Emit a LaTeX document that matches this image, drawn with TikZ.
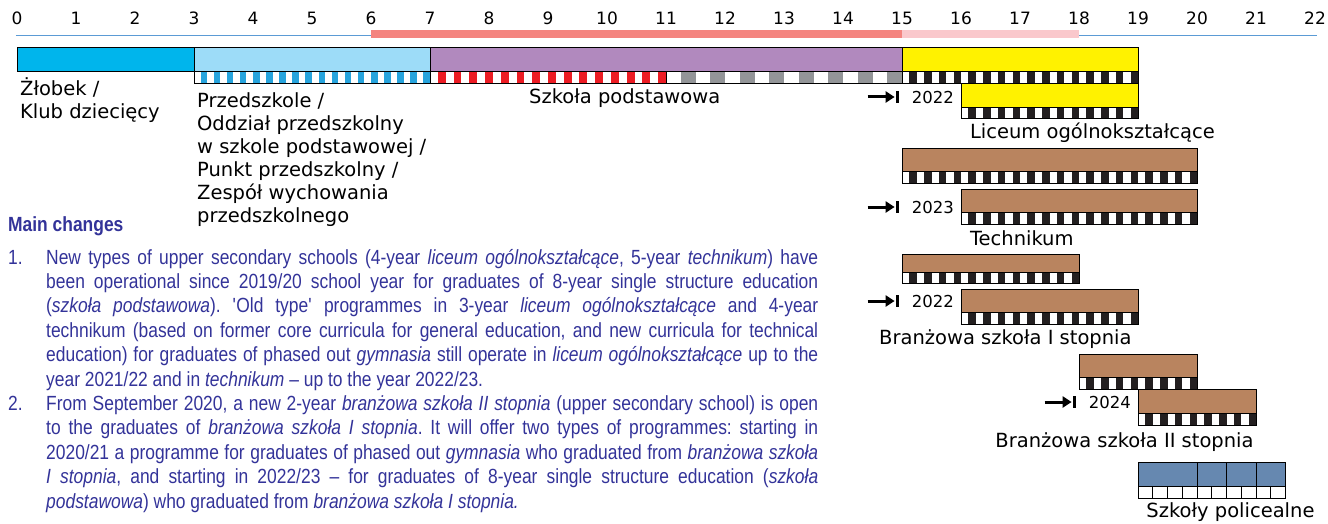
\documentclass[tikz,border=0pt]{standalone}
\usepackage{fontspec}
\setmainfont{DejaVu Sans}
\newfontfamily\notefont[FakeStretch=0.85]{Liberation Sans}
\usepackage{xcolor}
\usepackage{tikz}
\usetikzlibrary{arrows.meta}
\definecolor{crecheblue}{HTML}{00B5EC}
\definecolor{preblue}{HTML}{9DDCF8}
\definecolor{prestripe}{HTML}{27A4DD}
\definecolor{primpurple}{HTML}{B189BE}
\definecolor{stripered}{HTML}{EC1C24}
\definecolor{stripegrey}{HTML}{939598}
\definecolor{stripeblack}{HTML}{231F20}
\definecolor{upyellow}{HTML}{FFF200}
\definecolor{vocbrown}{HTML}{B9845F}
\definecolor{postblue}{HTML}{6688B0}
\definecolor{compred}{HTML}{F4847F}
\definecolor{comppink}{HTML}{FAC8CC}
\definecolor{axisblue}{HTML}{5B9BD5}
\definecolor{notetext}{HTML}{333399}
\newcommand\fullline[1]{\makebox[772pt][s]{#1}}
\frenchspacing

\begin{document}
\begin{tikzpicture}[x=59pt,y=-1pt,
  edge/.style={draw=black,line width=0.8pt},
  lbl/.style={font=\fontsize{19.5}{23}\selectfont,inner sep=0pt,align=left,anchor=base west},
  yearlbl/.style={font=\fontsize{16.5}{18}\selectfont,inner sep=0pt,anchor=base east},
  marker/.style={line width=3pt,-{Triangle[length=9pt,width=11pt]}},
  note/.style={font=\notefont\fontsize{20.5}{24.4}\selectfont,text=notetext,inner sep=0pt,
    anchor=base west,align=left}]
  \useasboundingbox (-0.2881,0) rectangle (22.2203,523);
  % age axis
  \draw[axisblue,line width=1pt] (-0.02,35) -- (22.03,35);
  \fill[compred] (6,29.5) rectangle (15,37.5);
  \fill[comppink] (15,29.5) rectangle (18,37.5);
  \foreach \a in {0,...,22}
    \node[font=\fontsize{17}{20}\selectfont,anchor=base,inner sep=0pt] (age\a) at (\a,24) {\a};
  % bars
  \foreach \a/\b/\ya/\yb/\c in {0/3/47/71/crecheblue, 3/7/47/71/preblue, 7/15/47/71/primpurple,
      15/19/47/71/upyellow, 16/19/83/107/upyellow, 15/20/148/171/vocbrown, 16/20/189/212/vocbrown,
      15/18/254/272/vocbrown, 16/19/289/312/vocbrown, 18/20/354/377/vocbrown, 19/21/389/413/vocbrown,
      19/20/462/486/postblue, 20/20.5/462/486/postblue, 20.5/21/462/486/postblue, 21/21.5/462/486/postblue}
    \filldraw[fill=\c,edge] (\a,\ya) rectangle (\b,\yb);
  % stripes under the bars
  \foreach \a/\b/\ya/\yb/\p/\c in {3/7/71/83/0.22222/prestripe, 7/11/71/83/0.26667/stripered,
      11/15/71/83/0.5/stripegrey, 15/19/71/83/0.25/stripeblack, 16/19/107/118/0.25/stripeblack,
      15/20/171/183/0.25/stripeblack, 16/20/212/224/0.25/stripeblack, 15/18/272/283/0.25/stripeblack,
      16/19/312/324/0.25/stripeblack, 18/20/377/389/0.25/stripeblack, 19/21/413/425/0.25/stripeblack} {
    \fill[white] (\a,\ya) rectangle (\b,\yb);
    \pgfmathtruncatemacro\nb{round((\b-\a)/\p)-1}
    \foreach \i in {0,...,\nb}
      \fill[\c] ({\a+(\i+0.5)*\p},\ya) rectangle ({\a+(\i+1)*\p},\yb);
    \draw[edge] (\a,\ya) rectangle (\b,\yb);
  }
  \draw[edge,fill=white] (19,486) rectangle (21.5,498);
  \foreach \s in {19.25,19.5,...,21.3}
    \draw[edge] (\s,486) -- (\s,498);
  % start years
  \foreach \nm/\x/\y/\t in {lic/16/103/2022, tech/16/213/2023, brI/16/307/2022, brII/19/408/2024} {
    \node[yearlbl] (\nm) at ([xshift=-7pt]\x,\y) {\t};
    \coordinate (\nm tail) at ([xshift=-44pt]\nm.west);
    \coordinate (\nm stop) at ([xshift=-14pt]\nm.west);
    \draw[marker] (\nm tail) -- ([xshift=-3pt]\nm stop);
    \draw[line width=3pt] ([yshift=6pt]\nm stop) -- ([yshift=-6pt]\nm stop);
  }
  % school labels (base = last line)
  \node[lbl] (creche) at (0.05,118) {Żłobek /\\Klub dziecięcy};
  \node[lbl] (presch) at (3.05,222) {Przedszkole /\\Oddział przedszkolny\\w szkole podstawowej /\\Punkt przedszkolny /\\Zespół wychowania\\przedszkolnego};
  \node[lbl,anchor=base] (primary) at (10.3,103) {Szkoła podstawowa};
  \node[lbl] (liceum) at (16.15,138) {Liceum ogólnokształcące};
  \node[lbl] (techn) at (16.15,245) {Technikum};
  \node[lbl] (branzI) at (14.61,344) {Branżowa szkoła I stopnia};
  \node[lbl] (branzII) at (16.58,447) {Branżowa szkoła II stopnia};
  \node[lbl] (postsec) at (19.14,517) {Szkoły policealne};
  % notes
  \node[note,font=\notefont\bfseries\fontsize{20.5}{24}\selectfont] (mainch) at (-0.153,231) {Main changes};
  \node[note] (num1) at (-0.153,264) {1.};
  \node[note] (item1) at (0.4915,386) {%
    \fullline{New types of upper secondary schools (4-year \textit{liceum ogólnokształcące}, 5-year \textit{technikum}) have}\\
    \fullline{been operational since 2019/20 school year for graduates of 8-year single structure education}\\
    \fullline{(\textit{szkoła podstawowa}). \textquotesingle Old type\textquotesingle{} programmes in 3-year \textit{liceum ogólnokształcące} and 4-year}\\
    \fullline{technikum (based on former core curricula for general education, and new curricula for technical}\\
    \fullline{education) for graduates of phased out \textit{gymnasia} still operate in \textit{liceum ogólnokształcące} up to the}\\
    year 2021/22 and in \textit{technikum} – up to the year 2022/23.};
  \node[note] (num2) at (-0.153,410.4) {2.};
  \node[note] (item2) at (0.4915,508) {%
    \fullline{From September 2020, a new 2-year \textit{branżowa szkoła II stopnia} (upper secondary school) is open}\\
    \fullline{to the graduates of \textit{branżowa szkoła I stopnia}. It will offer two types of programmes: starting in}\\
    \fullline{2020/21 a programme for graduates of phased out \textit{gymnasia} who graduated from \textit{branżowa szkoła}}\\
    \fullline{\textit{I stopnia}, and starting in 2022/23 – for graduates of 8-year single structure education (\textit{szkoła}}\\
    \textit{podstawowa}) who graduated from \textit{branżowa szkoła I stopnia.}};
\end{tikzpicture}
\end{document}
